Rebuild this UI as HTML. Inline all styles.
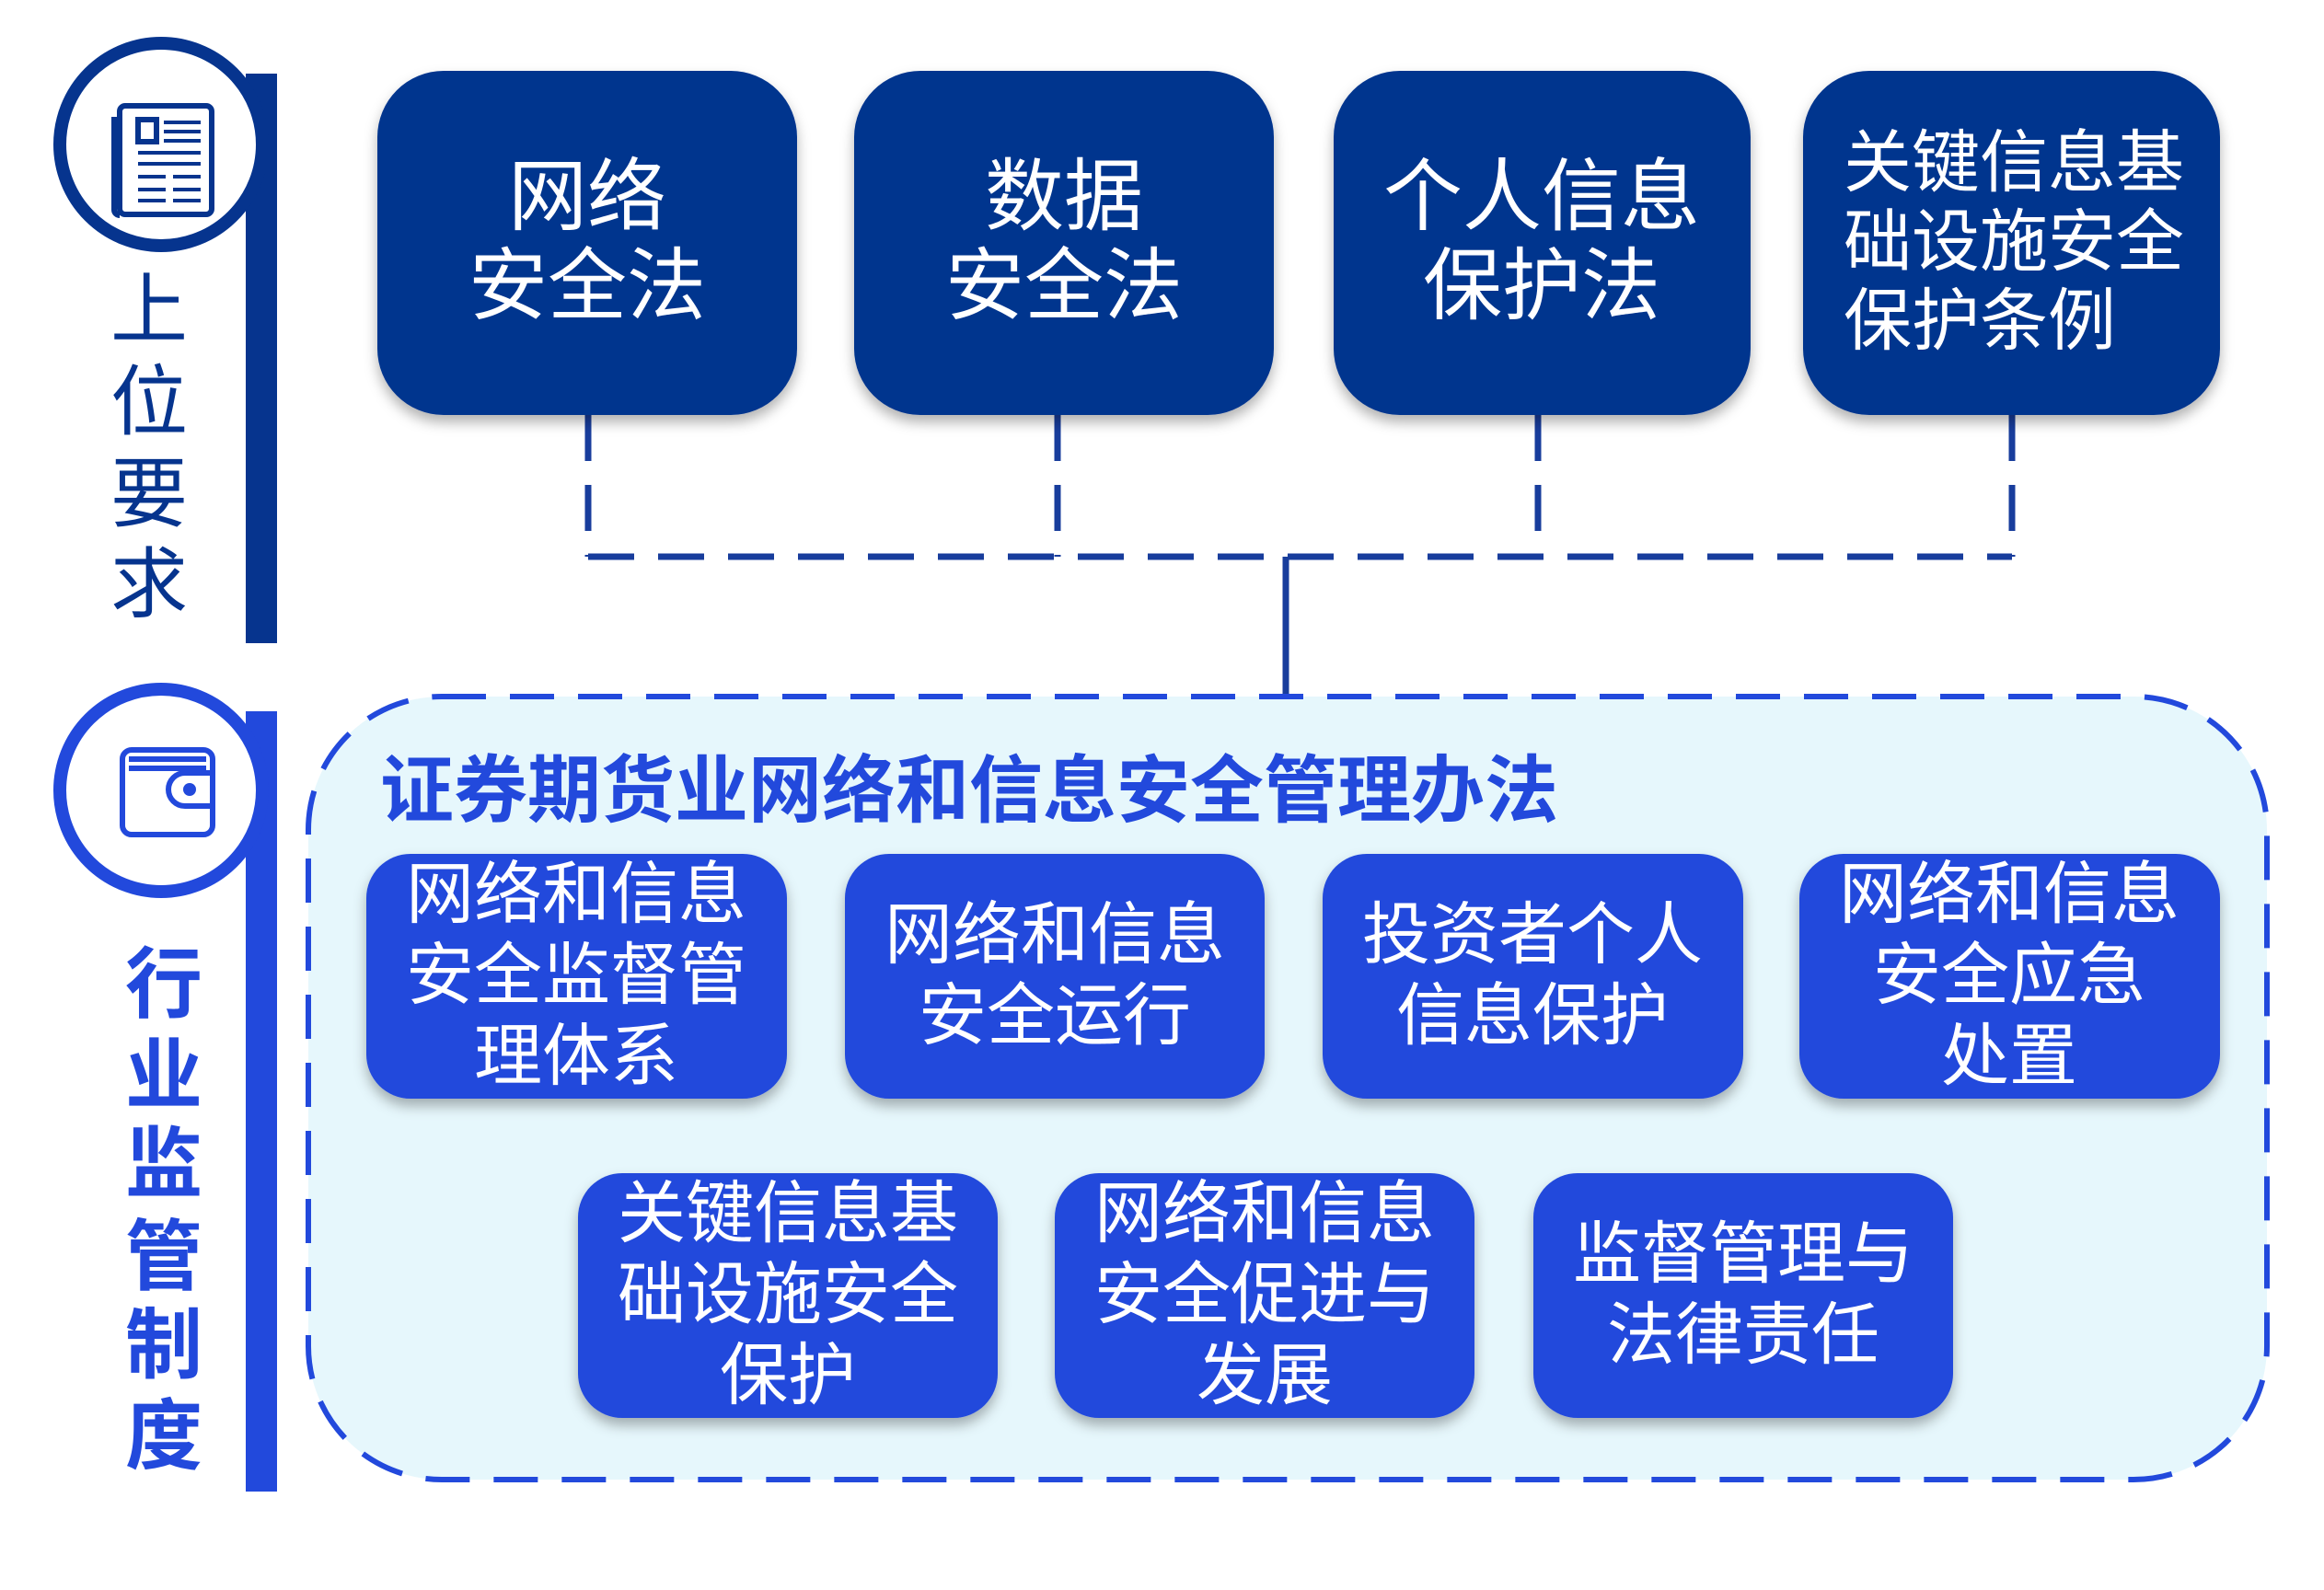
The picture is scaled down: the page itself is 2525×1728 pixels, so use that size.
<!DOCTYPE html>
<html><head><meta charset="utf-8"><style>
html,body{margin:0;padding:0;background:#fff}
svg{display:block}
text{font-family:"Liberation Sans","Noto Sans CJK SC",sans-serif}
</style></head><body>
<svg width="2525" height="1728" viewBox="0 0 2525 1728" xmlns="http://www.w3.org/2000/svg">
<defs>
<filter id="sh" x="-10%" y="-10%" width="120%" height="130%"><feDropShadow dx="0" dy="8" stdDeviation="7" flood-color="#000" flood-opacity="0.3"/></filter>
</defs>
<rect x="267" y="80" width="34" height="619" fill="#06348e"/>
<circle cx="175" cy="157" r="110" fill="#fff" stroke="#06348e" stroke-width="14"/>
<g fill="none" stroke="#06348e" stroke-width="6">
<rect x="130" y="115" width="100" height="118" rx="6"/>
<path d="M130 130 h-6 v98 a6 6 0 0 0 6 6"/>
<rect x="150" y="130" width="20" height="24"/>
</g>
<g stroke="#06348e" stroke-width="4">
<line x1="178" y1="133" x2="218" y2="133"/><line x1="178" y1="143" x2="218" y2="143"/><line x1="178" y1="153" x2="218" y2="153"/>
<line x1="150" y1="166" x2="218" y2="166"/><line x1="150" y1="178" x2="218" y2="178"/>
<line x1="150" y1="192" x2="180" y2="192"/><line x1="188" y1="192" x2="218" y2="192"/>
<line x1="150" y1="206" x2="180" y2="206"/><line x1="188" y1="206" x2="218" y2="206"/>
<line x1="150" y1="218" x2="180" y2="218"/><line x1="188" y1="218" x2="218" y2="218"/>
</g>
<g font-size="84" fill="#06348e" text-anchor="middle">
<text x="162" y="366">上</text><text x="162" y="466">位</text><text x="162" y="566">要</text><text x="162" y="664">求</text>
</g>
<rect x="267" y="773" width="34" height="848" fill="#2249dc"/>
<circle cx="175" cy="859" r="110" fill="#fff" stroke="#2249dc" stroke-width="14"/>
<g fill="none" stroke="#2249dc" stroke-width="6">
<rect x="133" y="815" width="98" height="92" rx="10"/>
<path d="M231 840 h-30 a18 18 0 0 0 0 36 h30"/>
<line x1="140" y1="825" x2="224" y2="825"/><line x1="140" y1="835" x2="224" y2="835"/>
</g>
<circle cx="206" cy="858" r="7" fill="#2249dc"/>
<g font-size="84" fill="#2249dc" text-anchor="middle" font-weight="bold">
<text x="178" y="1099">行</text><text x="178" y="1198">业</text><text x="178" y="1294">监</text><text x="178" y="1395">管</text><text x="178" y="1491">制</text><text x="178" y="1590">度</text>
</g>
<g stroke="#183d9c" stroke-width="7" fill="none" stroke-dasharray="50 26">
<line x1="639" y1="451" x2="639" y2="605"/>
<line x1="1149" y1="451" x2="1149" y2="605"/>
<line x1="1671" y1="451" x2="1671" y2="605"/>
<line x1="2186" y1="451" x2="2186" y2="605"/>
<line x1="639" y1="605" x2="2186" y2="605"/>
</g>
<line x1="1397" y1="605" x2="1397" y2="760" stroke="#183d9c" stroke-width="7"/>
<rect x="335" y="757" width="2128" height="851" rx="145" fill="#e6f7fc" stroke="#2249dc" stroke-width="6" stroke-dasharray="48 26"/>
<text x="413" y="887" font-size="80" font-weight="bold" fill="#2249dc">证券期货业网络和信息安全管理办法</text>
<g fill="#06348e" filter="url(#sh)">
<rect x="410" y="77" width="456" height="374" rx="72"/>
<rect x="928" y="77" width="456" height="374" rx="72"/>
<rect x="1449" y="77" width="453" height="374" rx="72"/>
<rect x="1959" y="77" width="453" height="374" rx="72"/>
</g>
<g font-size="86" fill="#fff" text-anchor="middle">
<text x="638" y="243">网络</text><text x="638" y="340">安全法</text>
<text x="1156" y="243">数据</text><text x="1156" y="340">安全法</text>
<text x="1675" y="243">个人信息</text><text x="1675" y="340">保护法</text>
</g>
<g font-size="74" fill="#fff">
<text x="2003" y="202">关键信息基</text><text x="2003" y="288">础设施安全</text><text x="2003" y="374">保护条例</text>
</g>
<g fill="#2249dc" filter="url(#sh)">
<rect x="398" y="928" width="457" height="266" rx="48"/>
<rect x="918" y="928" width="456" height="266" rx="48"/>
<rect x="1437" y="928" width="457" height="266" rx="48"/>
<rect x="1955" y="928" width="457" height="266" rx="48"/>
<rect x="628" y="1275" width="456" height="266" rx="48"/>
<rect x="1146" y="1275" width="456" height="266" rx="48"/>
<rect x="1666" y="1275" width="456" height="266" rx="48"/>
</g>
<g font-size="74" fill="#fff" text-anchor="middle">
<text x="626" y="997">网络和信息</text><text x="626" y="1085">安全监督管</text><text x="626" y="1173">理体系</text>
<text x="1146" y="1041">网络和信息</text><text x="1146" y="1129">安全运行</text>
<text x="1665" y="1041">投资者个人</text><text x="1665" y="1129">信息保护</text>
<text x="2183" y="997">网络和信息</text><text x="2183" y="1085">安全应急</text><text x="2183" y="1173">处置</text>
<text x="856" y="1344">关键信息基</text><text x="856" y="1432">础设施安全</text><text x="856" y="1520">保护</text>
<text x="1374" y="1344">网络和信息</text><text x="1374" y="1432">安全促进与</text><text x="1374" y="1520">发展</text>
<text x="1894" y="1388">监督管理与</text><text x="1894" y="1476">法律责任</text>
</g>
</svg>
</body></html>
